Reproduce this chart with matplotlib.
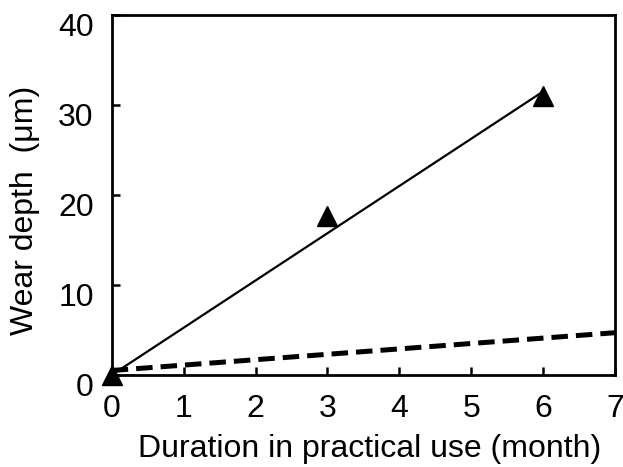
import matplotlib
matplotlib.use("Agg")
import matplotlib.pyplot as plt
import matplotlib.transforms as mtransforms
import numpy as np

plt.rcParams['font.family'] = ['Liberation Sans', 'DejaVu Sans']

# data
months_pts = [0, 3, 6]
wear_pts = [0, 17.7, 31.0]
fit_x = [0, 6]
fit_y = [0, 31.5]
dash_x = [0, 7]
dash_y = [0.5, 4.7]
xticks = [0, 1, 2, 3, 4, 5, 6, 7]
yticks = [0, 10, 20, 30, 40]

fig = plt.figure(figsize=(6.23, 4.67), dpi=100)
ax = fig.add_axes([111.7/623, 1-375/467, (615-111.7)/623, (375-15)/467])

ax.plot(fit_x, fit_y, color='black', lw=1.6, solid_capstyle='butt', zorder=2)
ax.plot(dash_x, dash_y, color='black', lw=3.6, dashes=(3.3, 1.6), zorder=2, clip_on=False)
ax.plot(months_pts, wear_pts, linestyle='none', marker='^', ms=15, color='black', clip_on=False, zorder=3)

ax.set_xlim(0, 7)
ax.set_ylim(0, 40)
ax.set_xticks(xticks)
ax.set_yticks(yticks)
ax.tick_params(direction='in', length=6, width=1.8, labelsize=23, pad=14)
ax.tick_params(axis='y', pad=13)
for s in ax.spines.values():
    s.set_linewidth(2.0)

ax.set_xlabel('Duration in practical use (month)', fontsize=23)
ax.set_ylabel('Wear depth  (μm)', fontsize=23)
ax.yaxis.set_label_coords(-0.142, 0.456)
ax.xaxis.set_label_coords(0.513, -0.165)

off = mtransforms.ScaledTranslation(0, -10/100, fig.dpi_scale_trans)
for lab in ax.get_yticklabels():
    lab.set_transform(lab.get_transform() + off)

fig.savefig('out.png', dpi=100)
